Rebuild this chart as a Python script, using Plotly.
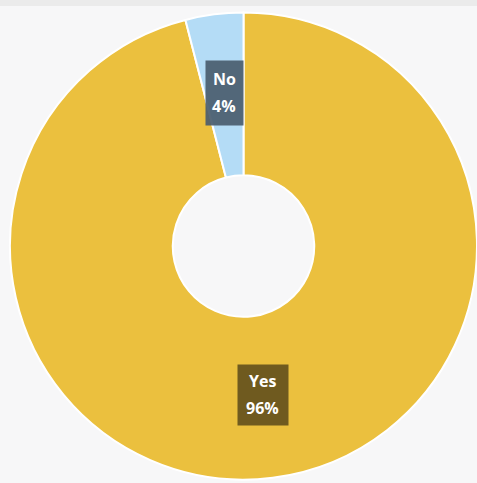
import math
import plotly.graph_objects as go

labels = ["Yes", "No"]
values = [96, 4]
colors = ["#ebc03e", "#b4dcf6"]
box_colors = ["rgba(104,84,30,0.95)", "rgba(74,92,110,0.92)"]

W, H = 477, 483
dom_x = [0.021, 1.0]
dom_y = [0.006, 0.975]
hole = 0.303

fig = go.Figure(go.Pie(
    labels=labels, values=values, sort=False, direction="clockwise",
    rotation=0, hole=hole, textinfo="none", hoverinfo="label+percent",
    marker=dict(colors=colors, line=dict(color="#ffffff", width=2)),
    domain=dict(x=dom_x, y=dom_y), showlegend=False,
))

# label positions computed from data (middle of ring at each slice's mid-angle)
cx_px = (dom_x[0] + dom_x[1]) / 2 * W
cy_px = (dom_y[0] + dom_y[1]) / 2 * H
R = min((dom_x[1] - dom_x[0]) * W, (dom_y[1] - dom_y[0]) * H) / 2
r_mid = R * (1 + hole) / 2
total = sum(values)
start = 0.0
annotations = []
box_sizes = [(50, 60), (37, 64)]
for lab, v, bc, (bw, bh) in zip(labels, values, box_colors, box_sizes):
    mid = start + v / total * 360 / 2
    start += v / total * 360
    th = math.radians(mid)  # clockwise from 12 o'clock
    px = cx_px + r_mid * math.sin(th)
    py = cy_px + r_mid * math.cos(th) + 2
    xp, yp = px / W, py / H
    pct = f"{round(v / total * 100)}%"
    common = dict(x=xp, y=yp, xref="paper", yref="paper", showarrow=False,
                  xanchor="center", yanchor="middle")
    annotations.append(dict(**common, text=" ", width=bw, height=bh, bgcolor=bc,
                            borderpad=0, font=dict(size=4)))
    annotations.append(dict(**common, text=f"<b>{lab}</b>", yshift=14,
                            font=dict(family="Open Sans", size=16, color="#ffffff")))
    annotations.append(dict(**common, text=f"<b>{pct}</b>", yshift=-13,
                            font=dict(family="Open Sans", size=16, color="#ffffff")))

fig.update_layout(
    width=W, height=H, margin=dict(l=0, r=0, t=0, b=0),
    paper_bgcolor="#f7f7f8", plot_bgcolor="#f7f7f8",
    annotations=annotations,
    shapes=[dict(type="rect", xref="paper", yref="paper", x0=0, x1=1,
                 y0=1 - 6 / H, y1=1, fillcolor="#ebebeb", line=dict(width=0), layer="below")],
)

fig.write_html("out.html")
